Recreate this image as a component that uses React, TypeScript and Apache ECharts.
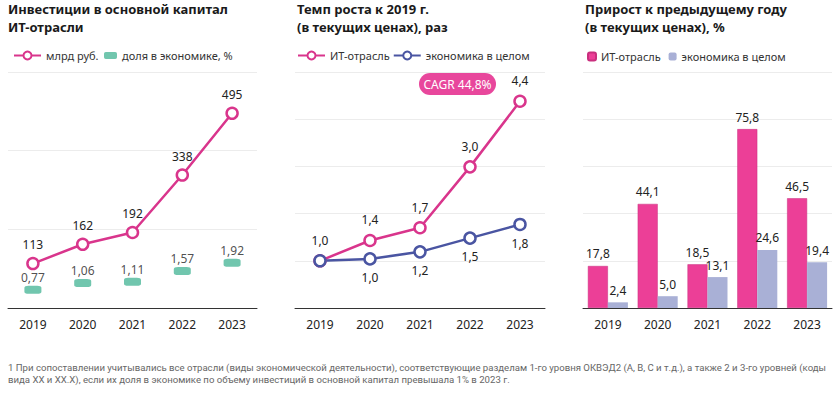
import React, { useEffect, useRef } from "react";
import * as echarts from "echarts";

const years = ["2019", "2020", "2021", "2022", "2023"];
// Panel 1
const investBn = [113, 162, 192, 338, 495];
const investShare = [0.77, 1.06, 1.11, 1.57, 1.92];
// Panel 2
const growthIT = [1.0, 1.43, 1.7, 2.99, 4.38];
const growthEcon = [1.0, 1.04, 1.19, 1.48, 1.77];
// Panel 3
const yoyIT = [17.8, 44.1, 18.5, 75.8, 46.5];
const yoyEcon = [2.4, 5.0, 13.1, 24.6, 19.4];

const titles = [
  "Инвестиции в основной капитал\nИТ-отрасли",
  "Темп роста к 2019 г.\n(в текущих ценах), раз",
  "Прирост к предыдущему году\n(в текущих ценах), %",
];
const cagrText = "CAGR 44,8%";
const footnote =
  "1 При сопоставлении учитывались все отрасли (виды экономической деятельности), соответствующие разделам 1-го уровня ОКВЭД2 (A, B, C и т.д.), а также 2 и 3-го уровней (коды\nвида XX и XX.X), если их доля в экономике по объему инвестиций в основной капитал превышала 1% в 2023 г.";

const PINK = "#d9358c";
const PINK_BAR = "#ec3f97";
const BLUE = "#4a55a2";
const LAV = "#a9b0d6";
const GREEN = "#4db89a";
const TXT = "#222";
const FONT = "'Noto Sans', sans-serif";

const fmt = (v: number, d = 1) => v.toFixed(d).replace(".", ",");

export default function App() {
  const ref = useRef<HTMLDivElement>(null);
  useEffect(() => {
    if (!ref.current) return;
    const chart = echarts.init(ref.current, null, { renderer: "svg" });
    const grids = [
      { left: 8, top: 72, width: 249, height: 236 },
      { left: 295, top: 72, width: 250, height: 236 },
      { left: 583, top: 72, width: 249, height: 236 },
    ];
    const xAxis = grids.map((_, i) => ({
      type: "category",
      gridIndex: i,
      data: years,
      axisLine: { lineStyle: { color: "#333", width: 1 } },
      axisTick: { show: false },
      axisLabel: { color: TXT, fontSize: 12, margin: 10, fontFamily: FONT },
    }));
    const split = { show: true, lineStyle: { color: "#ececec", width: 1 } };
    const yAxis = [
      { type: "value", gridIndex: 0, min: 0, max: 600, interval: 200, axisLabel: { show: false }, splitLine: split, axisLine: { show: false }, axisTick: { show: false } },
      { type: "value", gridIndex: 0, min: 0, max: 10, interval: 2, axisLabel: { show: false }, splitLine: { show: false }, axisLine: { show: false }, axisTick: { show: false } },
      { type: "value", gridIndex: 1, min: 0, max: 5, interval: 1, axisLabel: { show: false }, splitLine: split, axisLine: { show: false }, axisTick: { show: false } },
      { type: "value", gridIndex: 2, min: 0, max: 100, interval: 20, axisLabel: { show: false }, splitLine: split, axisLine: { show: false }, axisTick: { show: false } },
    ];
    const lbl = { color: TXT, fontSize: 12, fontFamily: FONT };
    const lineSeries = (name: string, data: number[], color: string, xi: number, yi: number, label: any) => ({
      name,
      type: "line",
      xAxisIndex: xi,
      yAxisIndex: yi,
      data,
      symbol: "circle",
      symbolSize: 11,
      lineStyle: { color, width: 2.5 },
      itemStyle: { color: "#fff", borderColor: color, borderWidth: 2.5 },
      label,
      z: 3,
    });
    const legText = { color: "#333", fontSize: 11, fontFamily: FONT };
    const option: any = {
      animation: false,
      textStyle: { fontFamily: FONT },
      title: titles.map((t, i) => ({
        text: t,
        left: [8, 297, 585][i],
        top: 0,
        padding: 0,
        textStyle: { fontSize: 13, fontWeight: "bold", color: "#1a1a1a", lineHeight: 18, fontFamily: FONT },
      })),
      legend: [
        {
          left: 13,
          top: 50,
          itemWidth: 27,
          itemHeight: 10,
          itemGap: 2,
          padding: 0,
          textStyle: legText,
          data: [{ name: "млрд руб." }],
        },
        {
          left: 104,
          top: 50,
          itemWidth: 13,
          itemHeight: 7,
          itemGap: 2,
          padding: 0,
          textStyle: legText,
          data: [{ name: "доля в экономике, %", icon: "roundRect", itemStyle: { color: GREEN } }],
        },
        {
          left: 297,
          top: 50,
          itemWidth: 27,
          itemHeight: 10,
          itemGap: 3,
          padding: 0,
          textStyle: legText,
          data: ["ИТ-отрасль", "экономика в целом"],
        },
        {
          left: 587,
          top: 51,
          itemWidth: 8,
          itemHeight: 8,
          itemGap: 5,
          padding: 0,
          textStyle: legText,
          data: ["ИТ-отрасль ", "экономика в целом "],
        },
      ],
      grid: grids,
      xAxis,
      yAxis,
      series: [
        lineSeries("млрд руб.", investBn, PINK, 0, 0, { show: true, position: "top", distance: 6, ...lbl }),
        {
          name: "доля в экономике, %",
          type: "scatter",
          xAxisIndex: 0,
          yAxisIndex: 1,
          data: investShare,
          symbol: "roundRect",
          symbolSize: [17, 8],
          itemStyle: { color: GREEN },
          label: { show: true, position: "top", distance: 2, formatter: (p: any) => fmt(p.value, 2), ...lbl },
        },
        lineSeries("ИТ-отрасль", growthIT, PINK, 1, 2, {
          show: true,
          position: "top",
          distance: 8,
          formatter: (p: any) => fmt(p.value),
          ...lbl,
        }),
        lineSeries("экономика в целом", growthEcon, BLUE, 1, 2, {
          show: true,
          position: "bottom",
          distance: 6,
          formatter: (p: any) => (p.dataIndex === 0 ? "" : fmt(p.value)),
          ...lbl,
        }),
        {
          name: "ИТ-отрасль ",
          type: "bar",
          xAxisIndex: 2,
          yAxisIndex: 3,
          data: yoyIT,
          barWidth: 20,
          barGap: "0%",
          itemStyle: { color: PINK_BAR, borderColor: "#c92f7e", borderWidth: 0.5 },
          label: { show: true, position: "top", distance: 6, formatter: (p: any) => fmt(p.value), ...lbl },
        },
        {
          name: "экономика в целом ",
          type: "bar",
          xAxisIndex: 2,
          yAxisIndex: 3,
          data: yoyEcon,
          barWidth: 20,
          barGap: "0%",
          itemStyle: { color: LAV },
          label: { show: true, position: "top", distance: 6, formatter: (p: any) => fmt(p.value), ...lbl },
        },
      ],
      graphic: [
        {
          type: "rect",
          shape: { x: 419, y: 73, width: 77, height: 22, r: 11 },
          style: { fill: "#e8479c" },
          z: 10,
        },
        {
          type: "text",
          x: 457.5,
          y: 84,
          style: { text: cagrText, fill: "#fff", fontSize: 12, fontFamily: FONT, align: "center", verticalAlign: "middle" },
          z: 11,
        },
        {
          type: "text",
          x: 8,
          y: 362,
          style: { text: footnote, fill: "#666", fontSize: 9.6, lineHeight: 11.5, fontFamily: "Roboto, sans-serif" },
        },
      ],
    };
    chart.setOption(option);
    return () => chart.dispose();
  }, []);
  return <div ref={ref} style={{ position: "fixed", left: 0, top: 0, width: 840, height: 394, background: "#fff" }} />;
}
